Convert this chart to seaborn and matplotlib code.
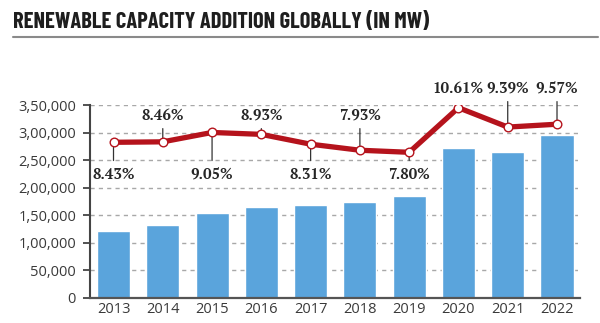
import matplotlib
matplotlib.use("Agg")
import matplotlib.pyplot as plt
from matplotlib.lines import Line2D
from matplotlib.ticker import FuncFormatter, MultipleLocator
import seaborn as sns
import pandas as pd

# Annual renewable capacity additions (MW) and year-on-year growth (%)
years = ["2013", "2014", "2015", "2016", "2017", "2018", "2019", "2020", "2021", "2022"]
capacity_mw = [121000, 132000, 153500, 165000, 168500, 173500, 185000, 271500, 265500, 295500]
growth_pct = [8.43, 8.46, 9.05, 8.93, 8.31, 7.93, 7.80, 10.61, 9.39, 9.57]
# where each growth label sits: "below", "above" or "top"
label_side = ["below", "above", "below", "above", "below", "above", "below", "top", "top", "top"]

title = "RENEWABLE CAPACITY ADDITION GLOBALLY (IN MW)"

BAR = "#5aa4dc"
RED = "#b5131c"
AXIS = "#444444"

sns.set_theme(style="white")
plt.rcParams["font.family"] = ["Open Sans", "DejaVu Sans"]

df = pd.DataFrame({"year": years, "capacity": capacity_mw, "growth": growth_pct})

fig = plt.figure(figsize=(6.0, 3.23), dpi=100)
ax = fig.add_axes([0.15, 0.0774, 0.8167, 0.5975])

sns.barplot(data=df, x="year", y="capacity", color=BAR, saturation=1,
            width=0.67, ax=ax, zorder=2)

ax.set_xlim(-0.477, 9.467)
ax.set_ylim(0, 350000)
ax.yaxis.set_major_locator(MultipleLocator(50000))


def indian_format(v, _pos=None):
    n = int(round(v))
    s = str(n)
    if len(s) <= 3:
        return s
    head, tail = s[:-3], s[-3:]
    groups = []
    while len(head) > 2:
        groups.insert(0, head[-2:])
        head = head[:-2]
    if head:
        groups.insert(0, head)
    return ",".join(groups + [tail])


ax.yaxis.set_major_formatter(FuncFormatter(indian_format))
ax.set_xlabel("")
ax.set_ylabel("")

ax.set_axisbelow(True)
ax.grid(axis="y", color="#a8a8a8", linestyle=(0, (3, 3)), linewidth=1.0)
ax.grid(axis="x", visible=False)

for side in ("top", "right"):
    ax.spines[side].set_visible(False)
ax.spines["left"].set_color(AXIS)
ax.spines["left"].set_linewidth(1.5)
ax.spines["bottom"].set_color("#555555")
ax.spines["bottom"].set_linewidth(1.6)

ax.tick_params(axis="y", left=True, length=5, width=1.3, color=AXIS, pad=5,
               labelsize=10.5, labelcolor="#3a3a3a")
ax.tick_params(axis="x", bottom=False, length=0, pad=3,
               labelsize=10.5, labelcolor="#3a3a3a")

# Growth line on a hidden twin axis
ax2 = ax.twinx()
ax2.set_ylim(-1.38, 10.78)
sns.lineplot(x=list(range(len(years))), y=growth_pct, ax=ax2, color=RED,
             linewidth=3.8, zorder=3, legend=False)
ax2.plot(range(len(years)), growth_pct, linestyle="none", marker="o",
         markersize=6.2, markerfacecolor="white", markeredgecolor=RED,
         markeredgewidth=1.0, zorder=5)
ax2.set_axis_off()

label_y = {"below": 0.642, "above": 0.948, "top": 1.088}
for i, (g, side) in enumerate(zip(growth_pct, label_side)):
    arrow = None
    if i != 7:
        arrow = dict(arrowstyle="-", color="#333333", lw=0.9,
                     shrinkA=2, shrinkB=0)
    ax2.annotate(f"{g:.2f}%", xy=(i, g), xytext=(i, label_y[side]),
                 textcoords=("data", "axes fraction"),
                 ha="center", va="center", fontsize=10.8, fontweight="bold",
                 family=["PT Serif", "DejaVu Serif"], color="#262626",
                 arrowprops=arrow, annotation_clip=False, zorder=4)

# Title and rule underneath
fig.text(13 / 600, 1 - 21.5 / 323, title, ha="left", va="center",
         fontsize=16.2, fontweight="bold",
         family=["Barlow Condensed", "DejaVu Sans"], color="#1e1e1e")
fig.add_artist(Line2D([13 / 600, 598 / 600], [1 - 37 / 323, 1 - 37 / 323],
                      transform=fig.transFigure, color="#8a8a8a", linewidth=1.5))

fig.savefig("out.png", dpi=100)
